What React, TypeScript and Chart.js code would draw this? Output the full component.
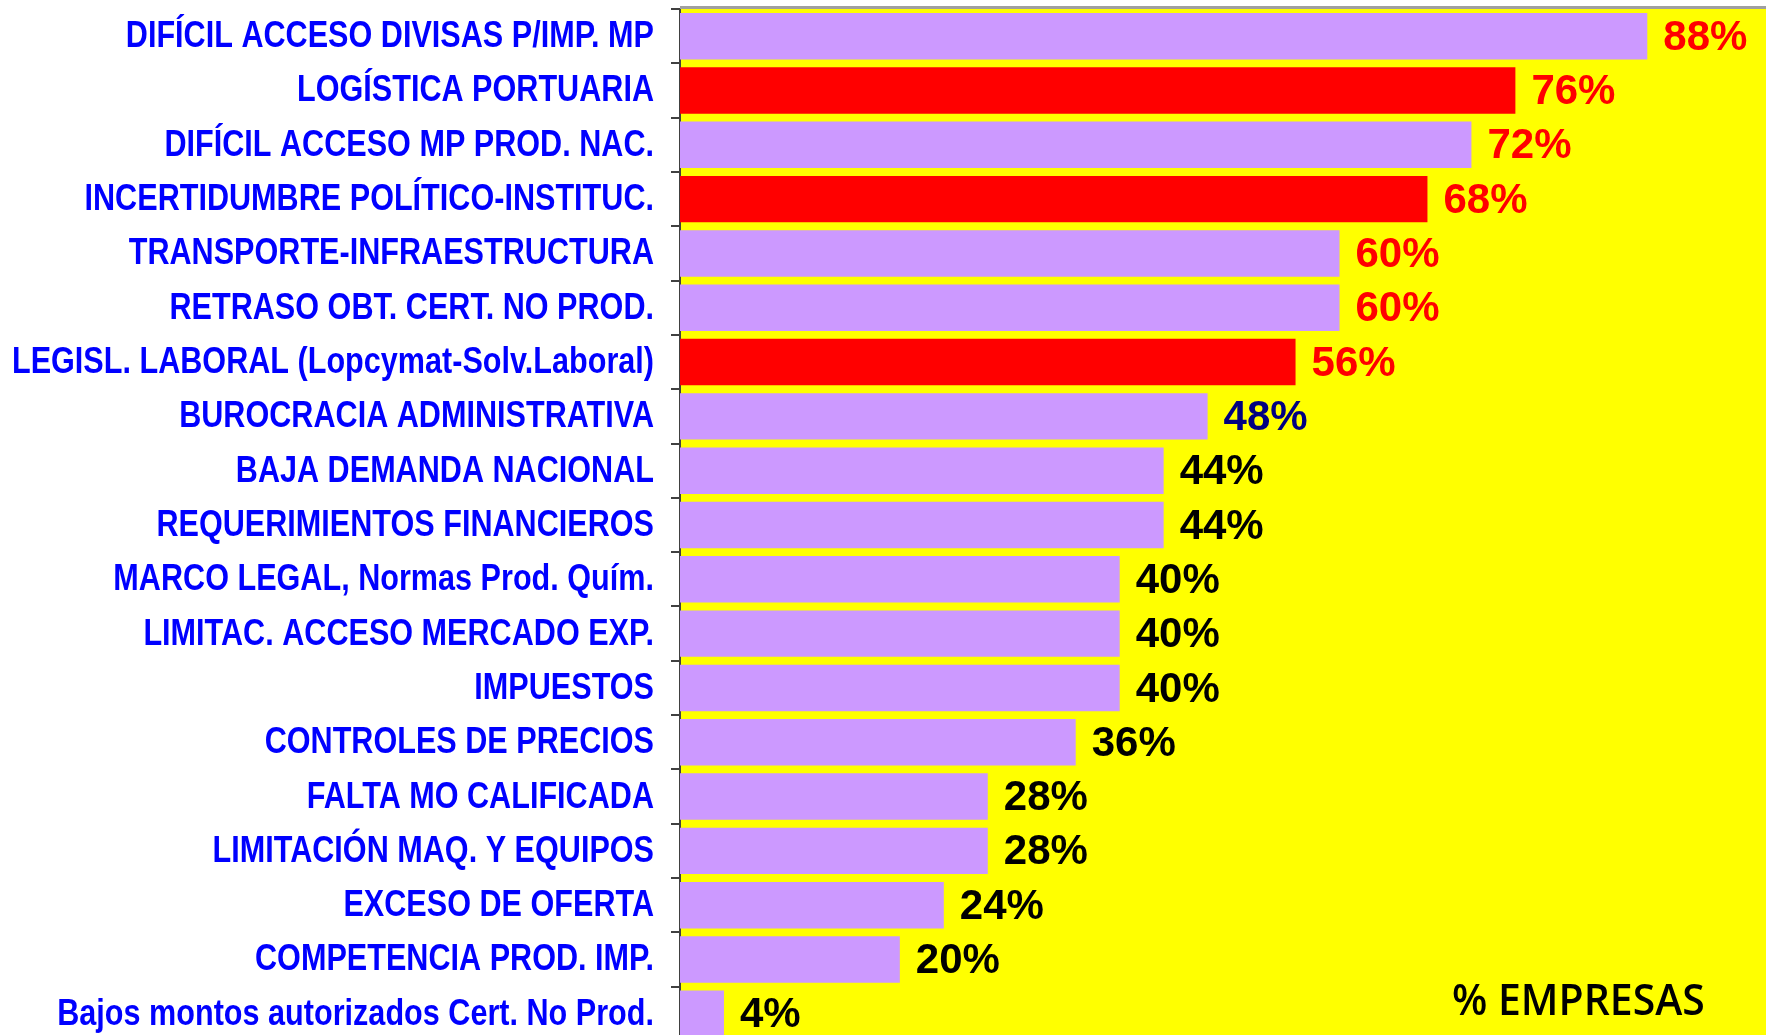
import React, { useEffect, useRef } from "react";
import { Chart, registerables } from "chart.js";

Chart.register(...registerables);

const categories = [
  "DIFÍCIL ACCESO DIVISAS P/IMP. MP",
  "LOGÍSTICA PORTUARIA",
  "DIFÍCIL ACCESO MP PROD. NAC.",
  "INCERTIDUMBRE POLÍTICO-INSTITUC.",
  "TRANSPORTE-INFRAESTRUCTURA",
  "RETRASO OBT. CERT. NO PROD.",
  "LEGISL. LABORAL (Lopcymat-Solv.Laboral)",
  "BUROCRACIA ADMINISTRATIVA",
  "BAJA DEMANDA NACIONAL",
  "REQUERIMIENTOS FINANCIEROS",
  "MARCO LEGAL, Normas Prod. Quím.",
  "LIMITAC. ACCESO MERCADO EXP.",
  "IMPUESTOS",
  "CONTROLES DE PRECIOS",
  "FALTA MO CALIFICADA",
  "LIMITACIÓN MAQ. Y EQUIPOS",
  "EXCESO DE OFERTA",
  "COMPETENCIA PROD. IMP.",
  "Bajos montos autorizados Cert. No Prod.",
];

const values = [88, 76, 72, 68, 60, 60, 56, 48, 44, 44, 40, 40, 40, 36, 28, 28, 24, 20, 4];

const highlighted = [
  "LOGÍSTICA PORTUARIA",
  "INCERTIDUMBRE POLÍTICO-INSTITUC.",
  "LEGISL. LABORAL (Lopcymat-Solv.Laboral)",
];

const axisTitle = "% EMPRESAS";

const LAVENDER = "#CC99FF";
const RED = "#FF0000";
const YELLOW = "#FFFF00";

function labelColor(i: number): string {
  if (i < 7) return "#FF0000";
  if (i === 7) return "#000080";
  return "#000000";
}

const framePlugin = {
  id: "framePlugin",
  beforeDraw(chart: any) {
    const { ctx, chartArea } = chart;
    ctx.save();
    ctx.fillStyle = YELLOW;
    ctx.fillRect(chartArea.left, chartArea.top, chartArea.right - chartArea.left, chartArea.bottom - chartArea.top);
    ctx.restore();
  },
  afterDraw(chart: any) {
    const { ctx, chartArea } = chart;
    const yScale = chart.scales.y;
    ctx.save();
    // top frame line
    ctx.strokeStyle = "#A0A0A0";
    ctx.lineWidth = 3;
    ctx.beginPath();
    ctx.moveTo(chartArea.left, chartArea.top - 1.5);
    ctx.lineTo(chartArea.right, chartArea.top - 1.5);
    ctx.stroke();

    // category labels (condensed bold)
    ctx.fillStyle = "#0000FF";
    ctx.font = "bold 36px 'Liberation Sans', Arial, sans-serif";
    ctx.textAlign = "right";
    ctx.textBaseline = "middle";
    categories.forEach((label, i) => {
      const y = yScale.getPixelForTick(i);
      ctx.save();
      ctx.translate(chartArea.left - 26, y + 1);
      ctx.scale(0.85, 1);
      ctx.fillText(label, 0, 0);
      ctx.restore();
    });

    // value labels
    const meta = chart.getDatasetMeta(0);
    ctx.font = "bold 42px 'Liberation Sans', Arial, sans-serif";
    ctx.textAlign = "left";
    ctx.textBaseline = "middle";
    meta.data.forEach((bar: any, i: number) => {
      ctx.fillStyle = labelColor(i);
      ctx.fillText(values[i] + "%", bar.x + 16, bar.y + 2);
    });

    // axis caption
    ctx.fillStyle = "#000000";
    ctx.font = "600 44px 'Open Sans', 'Noto Sans', sans-serif";
    ctx.textAlign = "left";
    ctx.textBaseline = "alphabetic";
    ctx.save();
    ctx.translate(1452, 1015);
    ctx.scale(0.93, 1);
    ctx.fillText(axisTitle, 0, 0);
    ctx.restore();
    ctx.restore();
  },
};

export default function App() {
  const ref = useRef<HTMLCanvasElement | null>(null);

  useEffect(() => {
    if (!ref.current) return;
    const chart = new Chart(ref.current, {
      type: "bar",
      data: {
        labels: categories,
        datasets: [
          {
            data: values,
            backgroundColor: categories.map((c) => (highlighted.includes(c) ? RED : LAVENDER)),
            borderWidth: 0,
            barPercentage: 0.855,
            categoryPercentage: 1,
          },
        ],
      },
      options: {
        indexAxis: "y",
        animation: false,
        responsive: false,
        maintainAspectRatio: false,
        layout: { padding: { top: 9, right: 0, bottom: 0, left: 0 } },
        plugins: {
          legend: { display: false },
          tooltip: { enabled: false },
        },
        scales: {
          x: {
            display: false,
            min: 0,
            max: 98.8,
          },
          y: {
            afterFit(scale: any) {
              scale.width = 680;
              scale.paddingTop = 0;
              scale.paddingBottom = 0;
            },
            grid: {
              drawOnChartArea: false,
              color: "#404040",
              tickLength: 9,
              lineWidth: 2,
            },
            border: { display: true, color: "#404040", width: 2 },
            ticks: {
              color: "rgba(0,0,0,0)",
              padding: 17,
              font: {
                family: "'Liberation Sans', sans-serif",
                size: 36,
                weight: "bold",
              },
            },
          },
        },
      },
      plugins: [framePlugin],
    });
    return () => chart.destroy();
  }, []);

  return (
    <div
      style={{
        position: "fixed",
        left: 0,
        top: 0,
        width: 1766,
        height: 1035,
        overflow: "hidden",
        background: "#FFFFFF",
      }}
    >
      <canvas ref={ref} width={1766} height={1041} style={{ display: "block" }} />
    </div>
  );
}
